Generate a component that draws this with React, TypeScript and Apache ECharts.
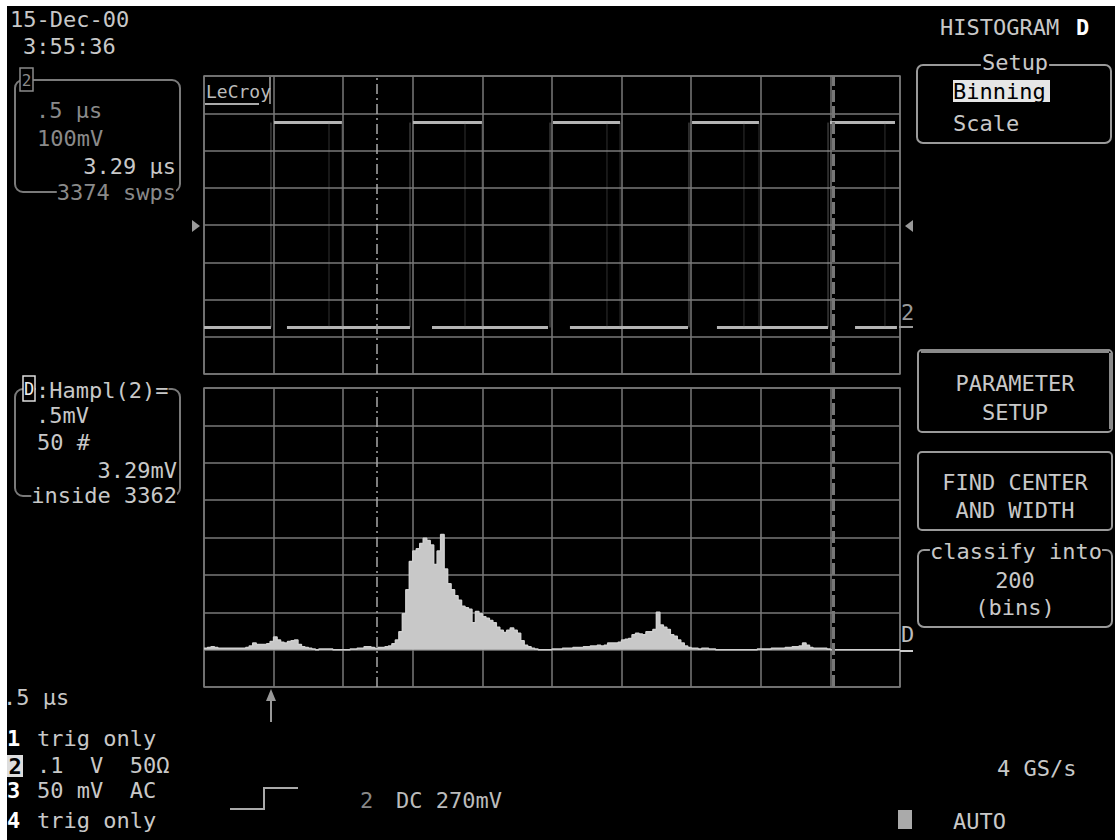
import React, { useEffect, useRef } from "react";
import * as echarts from "echarts";

// ---------- data ----------
// Histogram of Hampl(2): 200 bins, counts (# per bin)
const histogramCounts = [
  2, 3, 4, 3, 2, 2, 2, 2, 2, 2, 2, 2, 3, 5,
  9, 7, 7, 7, 8, 11, 17, 13, 10, 9, 11, 12, 13, 7, 4, 3,
  2, 1, 0, 1, 1, 1, 1, 0, 0, 0, 0, 0, 1, 1, 2, 2,
  4, 4, 3, 2, 3, 3,
  4, 5, 8, 13, 24, 48, 80, 118, 132, 135, 142, 149, 146, 140, 114, 132, 154, 108, 88, 80,
  72, 66, 58, 56, 54, 36, 51, 48, 44, 42, 39, 36, 30, 26, 23, 26, 29, 26, 22, 12,
  6, 4, 2, 1, 0,
  0, 0, 0, 1, 1,
  1, 2, 2, 2, 3, 3, 3, 4, 4, 5, 5, 6, 5, 6, 9, 9, 9, 10, 13, 14, 15, 20, 22, 21, 20, 24,
  24, 27, 50, 33, 30, 27, 20, 18, 13, 9, 5, 3, 2, 2, 1, 2, 2, 1,
  1, 0, 0, 0, 0, 0, 0, 0, 0, 0, 0, 0, 0, 1, 1, 1, 1,
  2, 2, 2, 2, 3, 3, 4, 4, 5, 9, 6, 3, 2, 2, 2, 2, 1,
  0, 0, 0, 0, 0, 0, 0, 0, 0, 0, 0, 0, 0, 0, 0, 0, 0, 0, 0, 0,
];
const binCount = 200;

// Channel 2 square wave (time in µs, 0.5 µs/div; level in mV, 100 mV/div)
const highLevelMv = 275;
const lowLevelMv = -275;
const highSegmentsUs: number[][] = [
  [0.503, 0.991], [1.501, 1.997], [2.507, 2.989], [3.506, 3.987], [4.497, 4.964],
];
const lowSegmentsUs: number[][] = [
  [0, 0.481], [0.596, 1.48], [1.638, 2.471], [2.629, 3.477], [3.685, 4.483], [4.677, 4.978],
];
const risingEdgesUs = [0.481, 1.48, 2.486, 3.484, 4.483];
const fallingEdgesUs = [0.898, 0.991, 1.875, 1.997, 2.895, 2.989, 3.879, 3.987, 4.892];
const cursorTimesUs = [1.243, 4.52];
const timeSpanUs = 5;

// ---------- style ----------
const FONT = "'DejaVu Sans Mono', monospace";
const GRID = "#787878";
const TXT = "#c8c8c8";
const DIM = "#8a8a8a";

function T(text: string, x: number, y: number, fill = TXT, extra: any = {}) {
  const align = extra.align || "left";
  return {
    type: "text",
    x,
    y,
    z: 100,
    style: {
      text,
      fill,
      fontSize: 22,
      fontFamily: FONT,
      align,
      verticalAlign: "middle",
      textAlign: align,
      textVerticalAlign: "middle",
      ...extra,
    },
  };
}
function R(x: number, y: number, w: number, h: number, style: any, r = 0) {
  return { type: "rect", z: 50, shape: { x, y, width: w, height: h, r }, style };
}
function L(x1: number, y1: number, x2: number, y2: number, stroke: string, lineWidth = 2) {
  return { type: "line", z: 60, shape: { x1, y1, x2, y2 }, style: { stroke, lineWidth } };
}
const boxStyle = { fill: "none", stroke: "#9a9a9a", lineWidth: 2 };

const cursorStyles = [
  { type: [10, 4, 2, 4], color: "#a8a8a8", width: 1.5 },
  { type: [12, 4], color: "#777", width: 3 },
];

function buildOption() {
  const hidden = {
    axisLabel: { show: false },
    axisTick: { show: false },
    axisLine: { show: false },
    splitLine: { show: true, lineStyle: { color: GRID, width: 1.5 } },
  };
  const seg = (pts: number[][], color: string, width: number, opacity = 1) => ({
    type: "line",
    xAxisIndex: 0,
    yAxisIndex: 0,
    data: pts,
    symbol: "none",
    silent: true,
    lineStyle: { color, width, opacity },
  });
  const series: any[] = [];
  lowSegmentsUs.forEach(([s, e]) => series.push(seg([[s, lowLevelMv], [e, lowLevelMv]], "#b4b4b4", 3)));
  highSegmentsUs.forEach(([s, e]) => series.push(seg([[s, highLevelMv], [e, highLevelMv]], "#b4b4b4", 3)));
  risingEdgesUs.forEach((t) => series.push(seg([[t, lowLevelMv], [t, highLevelMv]], "#9a9a9a", 1, 0.55)));
  fallingEdgesUs.forEach((t) => series.push(seg([[t, lowLevelMv], [t, highLevelMv]], "#8a8a8a", 1, 0.35)));
  series[0].markLine = {
    silent: true,
    symbol: ["none", "none"],
    label: { show: false },
    data: cursorTimesUs.map((t, i) => ({ xAxis: t, lineStyle: cursorStyles[i] })),
  };
  const histData = histogramCounts.map((c, i) => [i, c]);
  histData.push([binCount, histogramCounts[binCount - 1]]);
  series.push({
    type: "line",
    xAxisIndex: 1,
    yAxisIndex: 1,
    step: "end",
    data: histData,
    symbol: "none",
    silent: true,
    lineStyle: { color: "#d0d0d0", width: 1.5 },
    areaStyle: { color: "#c8c8c8", opacity: 1 },
    markLine: {
      silent: true,
      symbol: ["none", "none"],
      label: { show: false },
      data: cursorTimesUs.map((t, i) => ({ xAxis: (t / timeSpanUs) * binCount, lineStyle: cursorStyles[i] })),
    },
  });

  const elements: any[] = [
    // page margin
    { type: "rect", z: 1, shape: { x: 0, y: 0, width: 1115, height: 6 }, style: { fill: "#fff" } },
    { type: "rect", z: 1, shape: { x: 0, y: 0, width: 7, height: 840 }, style: { fill: "#fff" } },
    // top-left date
    T("15-Dec-00", 10, 19),
    T("3:55:36", 23, 46),
    // trace box channel 2
    R(15, 80, 165, 112, { fill: "none", stroke: "#7a7a7a", lineWidth: 2 }, 8),
    R(20, 68, 13, 23, { fill: "#000", stroke: DIM, lineWidth: 1.5 }),
    T("2", 26.5, 80, DIM, { fontSize: 16, align: "center" }),
    T(".5 µs", 36, 110, DIM),
    T("100mV", 37, 138, DIM),
    T("3.29 µs", 176, 166, TXT, { align: "right" }),
    T("3374 swps", 176, 192, DIM, { align: "right", backgroundColor: "#000" }),
    // math trace box D
    R(15, 389, 165, 107, { fill: "none", stroke: "#7a7a7a", lineWidth: 2 }, 8),
    R(23, 376, 12, 25, { fill: "#000", stroke: "#ddd", lineWidth: 1.5 }),
    T("D", 29, 389, "#eee", { fontSize: 17, align: "center" }),
    T(":Hampl(2)=", 36, 390, TXT, { backgroundColor: "#000" }),
    T(".5mV", 36, 415),
    T("50 #", 37, 442),
    T("3.29mV", 177, 470, TXT, { align: "right" }),
    T("inside 3362", 177, 495, TXT, { align: "right", backgroundColor: "#000" }),
    // right menu
    T("HISTOGRAM", 940, 27),
    T("D", 1076, 27, "#fff", { fontWeight: "bold" }),
    R(917, 65, 194, 78, boxStyle, 6),
    T("Setup", 1015, 62, TXT, { align: "center", backgroundColor: "#000", padding: [0, 1] }),
    R(953, 80, 97, 22, { fill: "#e6e6e6" }),
    T("Binning", 953, 91, "#000"),
    T("Scale", 953, 123),
    R(918, 350, 194, 82, boxStyle, 4),
    L(921, 351, 1109, 351, "#8a8a8a", 4),
    L(1111, 353, 1111, 429, "#8a8a8a", 4),
    T("PARAMETER", 1015, 383, TXT, { align: "center" }),
    T("SETUP", 1015, 412, TXT, { align: "center" }),
    R(918, 452, 194, 78, boxStyle, 4),
    T("FIND CENTER", 1015, 482, TXT, { align: "center" }),
    T("AND WIDTH", 1015, 510, TXT, { align: "center" }),
    R(918, 550, 194, 77, boxStyle, 6),
    T("classify into", 1016, 551, TXT, { align: "center", backgroundColor: "#000" }),
    T("200", 1015, 580, TXT, { align: "center" }),
    T("(bins)", 1015, 607, TXT, { align: "center" }),
    // bottom right
    T("4 GS/s", 997, 768),
    R(898, 810, 14, 19, { fill: "#aaa" }),
    T("AUTO", 953, 821),
    // bottom left
    T(".5 µs", 3, 697),
    T("1", 7, 738, "#fff", { fontWeight: "bold" }),
    T("trig only", 37, 738),
    R(7, 755, 16, 22, { fill: "#ddd" }),
    T("2", 15, 766, "#000", { align: "center", fontWeight: "bold" }),
    T(".1  V  50Ω", 37, 765),
    T("3", 7, 790, "#fff", { fontWeight: "bold" }),
    T("50 mV  AC", 37, 790),
    T("4", 7, 820, "#fff", { fontWeight: "bold" }),
    T("trig only", 37, 820),
    // trigger
    { type: "polyline", z: 60, shape: { points: [[230, 809], [264, 809], [264, 788], [298, 788]] }, style: { stroke: "#aaa", lineWidth: 2, fill: "none" } },
    T("2", 360, 800, "#888"),
    T("DC 270mV", 396, 800, "#bbb"),
    L(271, 722, 271, 696, "#999", 2),
    { type: "polygon", z: 60, shape: { points: [[266, 701], [271, 689], [276, 701]] }, style: { fill: "#999" } },
    // grid decorations
    T("LeCroy", 206, 91, "#bbb", { fontSize: 18 }),
    L(205, 104, 259, 104, "#aaa", 2),
    L(270, 77, 270, 104, "#aaa", 1.5),
    { type: "polygon", z: 60, shape: { points: [[192, 220], [200, 226], [192, 232]] }, style: { fill: "#999" } },
    { type: "polygon", z: 60, shape: { points: [[913, 220], [905, 226], [913, 232]] }, style: { fill: "#999" } },
    T("2", 901, 312, "#999"),
    L(899, 327, 913, 327, "#999", 2),
    T("D", 901, 634, "#bbb"),
    L(900, 651, 913, 651, "#ccc", 2),
  ];

  return {
    animation: false,
    backgroundColor: "#000",
    grid: [
      { left: 204, top: 76, width: 696, height: 298, show: true, borderColor: GRID, borderWidth: 1.5, backgroundColor: "transparent" },
      { left: 204, top: 388, width: 696, height: 299, show: true, borderColor: GRID, borderWidth: 1.5, backgroundColor: "transparent" },
    ],
    xAxis: [
      { type: "value", gridIndex: 0, min: 0, max: timeSpanUs, interval: 0.5, ...hidden },
      { type: "value", gridIndex: 1, min: 0, max: binCount, interval: 20, ...hidden },
    ],
    yAxis: [
      { type: "value", gridIndex: 0, min: -400, max: 400, interval: 100, ...hidden },
      { type: "value", gridIndex: 1, min: -50, max: 350, interval: 50, ...hidden },
    ],
    series,
    graphic: { elements },
  };
}

export default function App() {
  const ref = useRef<HTMLDivElement>(null);
  useEffect(() => {
    if (!ref.current) return;
    const chart = echarts.init(ref.current, null, { renderer: "svg" });
    chart.setOption(buildOption() as any);
    return () => chart.dispose();
  }, []);
  return (
    <div
      ref={ref}
      style={{ position: "fixed", left: 0, top: 0, width: 1115, height: 840 }}
    />
  );
}
